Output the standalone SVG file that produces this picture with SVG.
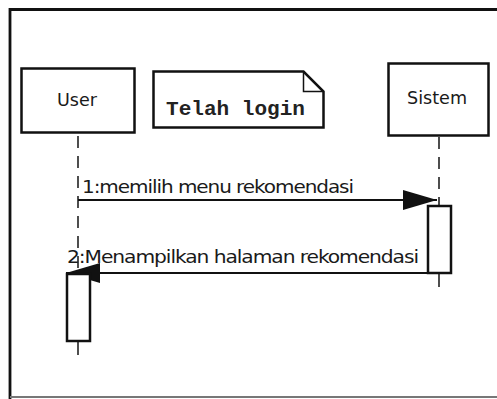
<svg xmlns="http://www.w3.org/2000/svg" width="497" height="399" viewBox="0 0 497 399">
  <style>
    .box { fill: #ffffff; stroke: #111111; stroke-width: 2.5; }
    .life { stroke: #222222; stroke-width: 1.6; stroke-dasharray: 12 8; fill: none; }
    .tick { stroke: #222222; stroke-width: 1.6; fill: none; }
    .msg { stroke: #111111; stroke-width: 2.2; fill: none; }
    .lbl { font-family: "DejaVu Sans Condensed", "Liberation Sans", sans-serif; font-size: 17px; fill: #1a1a1a; letter-spacing: -0.8px; }
    .name { font-family: "DejaVu Sans Condensed", "Liberation Sans", sans-serif; font-size: 18px; fill: #1a1a1a; }
    .mono { font-family: "Liberation Mono", "DejaVu Sans Mono", monospace; font-size: 21px; font-weight: bold; fill: #222222; }
  </style>
  <defs>
    <marker id="arrow" viewBox="0 0 34 20" refX="34" refY="10" markerWidth="34" markerHeight="20" markerUnits="userSpaceOnUse" orient="auto">
      <path d="M0,0 L34,10 L0,20 Z" fill="#111111"/>
    </marker>
  </defs>

  <rect width="497" height="399" fill="#ffffff"/>

  <!-- outer frame -->
  <g id="frame">
    <path d="M10,400 L10,9.5 L500,9.5" fill="none" stroke="#111111" stroke-width="2.8"/>
    <line x1="10" y1="397" x2="497" y2="397" stroke="#777777" stroke-width="2"/>
  </g>

  <!-- lifelines and messages -->
  <g id="connectors">
    <line class="life" x1="78" y1="136" x2="78" y2="274"/>
    <line class="life" x1="439" y1="137" x2="439" y2="206"/>
    <line class="tick" x1="439" y1="273" x2="439" y2="287"/>
    <line class="tick" x1="78" y1="341" x2="78" y2="355"/>
    <line class="msg" x1="78" y1="200" x2="437" y2="200" marker-end="url(#arrow)"/>
    <line class="msg" x1="427" y1="273" x2="66" y2="273" marker-end="url(#arrow)"/>
  </g>

  <g id="user">
    <rect class="box" x="21.5" y="68.5" width="113" height="64"/>
    <text class="name" x="57" y="106" textLength="40" lengthAdjust="spacingAndGlyphs">User</text>
  </g>

  <g id="note">
    <path class="box" d="M153.5,71.5 L303.5,71.5 L323.5,91.5 L323.5,127.5 L153.5,127.5 Z"/>
    <path d="M303.5,71.5 L303.5,91.5 L323.5,91.5" fill="none" stroke="#111111" stroke-width="1.5"/>
    <text class="mono" x="166" y="115" textLength="139" lengthAdjust="spacingAndGlyphs">Telah login</text>
  </g>

  <g id="sistem">
    <rect class="box" x="388.5" y="63.5" width="100" height="72"/>
    <text class="name" x="407" y="104" textLength="60" lengthAdjust="spacingAndGlyphs">Sistem</text>
  </g>

  <g id="sistem-activation">
    <rect class="box" x="428" y="206" width="23" height="67"/>
  </g>

  <g id="user-activation">
    <rect class="box" x="67" y="274" width="23" height="67"/>
  </g>

  <g id="labels">
    <text class="lbl" x="82" y="193" textLength="271" lengthAdjust="spacingAndGlyphs">1:memilih menu rekomendasi</text>
    <text class="lbl" x="67" y="263" textLength="351" lengthAdjust="spacingAndGlyphs">2:Menampilkan halaman rekomendasi</text>
  </g>
</svg>
